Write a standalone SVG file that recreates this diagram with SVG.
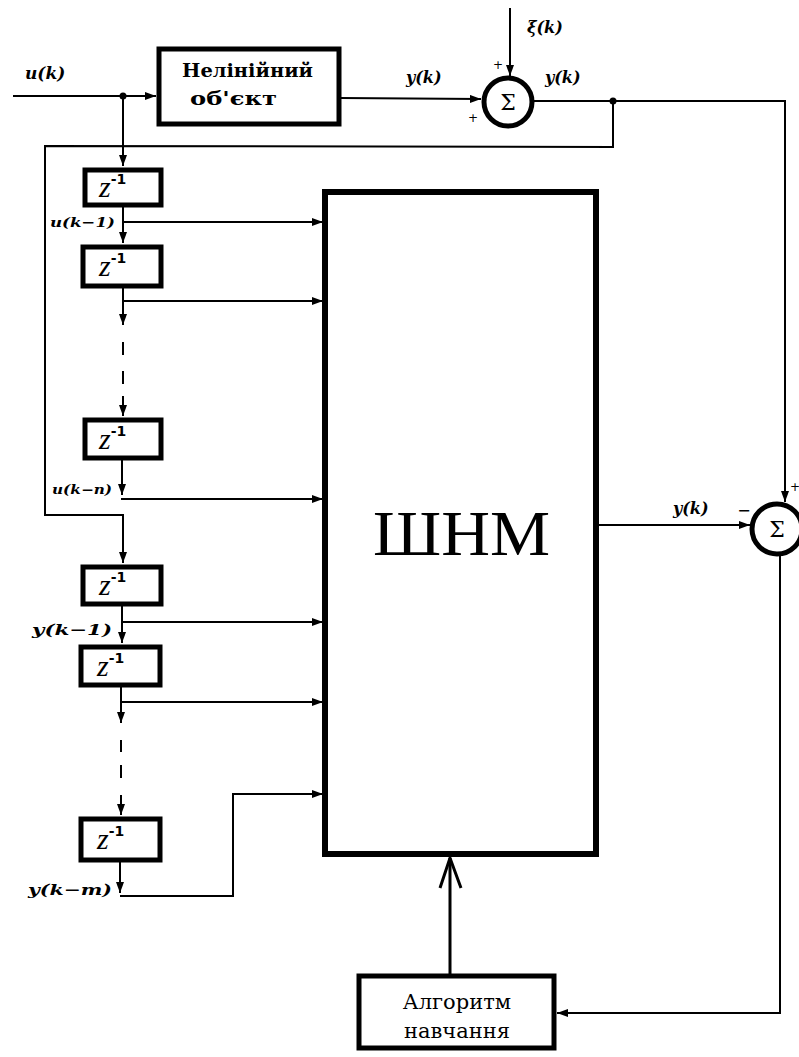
<svg xmlns="http://www.w3.org/2000/svg" width="799" height="1057" viewBox="0 0 799 1057">
<style>
.box{fill:#fff;stroke:#000;stroke-width:5}
.ln{fill:none;stroke:#000;stroke-width:2}
.lbl{font-family:"DejaVu Serif",serif;font-weight:bold;font-style:italic;fill:#000}
.z{font-family:"Liberation Serif",serif;font-style:italic;font-size:30px;fill:#000}
.sup{font-family:"DejaVu Sans",sans-serif;font-style:normal;font-weight:bold;font-size:14px}
.sig{font-family:"DejaVu Serif",serif;font-size:22px;fill:#000}
.ttl{font-family:"DejaVu Serif",serif;font-weight:bold;font-size:18px;fill:#000}
.alg{font-family:"DejaVu Serif",serif;font-size:21px;fill:#000}
.pm{font-family:"DejaVu Sans",sans-serif;font-size:12px;fill:#000}
</style>
<defs>
<marker id="ar" markerUnits="userSpaceOnUse" markerWidth="12" markerHeight="10" refX="11" refY="4" orient="auto">
<path d="M0,0 L11,4 L0,8 z" fill="#000"/>
</marker>
</defs>
<rect width="799" height="1057" fill="#fff"/>

<g id="connectors">
<line class="ln" x1="13" y1="96" x2="156" y2="96" marker-end="url(#ar)"/>
<circle cx="123" cy="96" r="3.5" fill="#000"/>
<line class="ln" x1="340" y1="98" x2="481" y2="99" marker-end="url(#ar)"/>
<line class="ln" x1="510" y1="8" x2="510" y2="76" marker-end="url(#ar)"/>
<polyline class="ln" points="533,101 785,101 785,502" marker-end="url(#ar)"/>
<circle cx="613" cy="101" r="3.5" fill="#000"/>
<polyline class="ln" points="613,101 613,147 45,146 45,515 123,515 123,563" marker-end="url(#ar)"/>
<line class="ln" x1="123" y1="96" x2="123" y2="166" marker-end="url(#ar)"/>
<line class="ln" x1="123" y1="207" x2="123" y2="243" marker-end="url(#ar)"/>
<line class="ln" x1="123" y1="222" x2="323" y2="222" marker-end="url(#ar)"/>
<line class="ln" x1="123" y1="288" x2="123" y2="325" marker-end="url(#ar)"/>
<line class="ln" x1="123" y1="301" x2="323" y2="301" marker-end="url(#ar)"/>
<line class="ln" x1="123" y1="342" x2="123" y2="355"/>
<line class="ln" x1="123" y1="371" x2="123" y2="384"/>
<line class="ln" x1="123" y1="396" x2="123" y2="416" marker-end="url(#ar)"/>
<line class="ln" x1="122" y1="460" x2="122" y2="495" marker-end="url(#ar)"/>
<polyline class="ln" points="121,499 323,499" marker-end="url(#ar)"/>
<line class="ln" x1="122" y1="606" x2="122" y2="643" marker-end="url(#ar)"/>
<line class="ln" x1="122" y1="622" x2="323" y2="622" marker-end="url(#ar)"/>
<line class="ln" x1="121" y1="687" x2="121" y2="723" marker-end="url(#ar)"/>
<line class="ln" x1="121" y1="702" x2="323" y2="702" marker-end="url(#ar)"/>
<line class="ln" x1="121" y1="740" x2="121" y2="752"/>
<line class="ln" x1="121" y1="765" x2="121" y2="778"/>
<line class="ln" x1="121" y1="795" x2="121" y2="815" marker-end="url(#ar)"/>
<line class="ln" x1="120" y1="862" x2="120" y2="893" marker-end="url(#ar)"/>
<polyline class="ln" points="120,896 233,896 233,794 323,794" marker-end="url(#ar)"/>
<line class="ln" x1="597" y1="525" x2="750" y2="525" marker-end="url(#ar)"/>
<polyline class="ln" points="780,556 780,1013 557,1013" marker-end="url(#ar)"/>
<line x1="450" y1="974" x2="450" y2="858" stroke="#000" stroke-width="3"/>
<polyline points="440,888 450,858 461,888" fill="none" stroke="#000" stroke-width="3"/>
</g>

<g id="object">
<rect class="box" x="159" y="49" width="180" height="75"/>
<text class="ttl" x="182" y="77" textLength="131" lengthAdjust="spacingAndGlyphs">Нелінійний</text>
<text class="ttl" x="190" y="105" textLength="87" lengthAdjust="spacingAndGlyphs">об'єкт</text>
</g>

<g id="sum1">
<circle cx="508" cy="102" r="24" fill="#fff" stroke="#000" stroke-width="5"/>
<text class="sig" x="508" y="110" text-anchor="middle">Σ</text>
<text class="pm" x="498" y="69" text-anchor="middle">+</text>
<text class="pm" x="473" y="122" text-anchor="middle">+</text>
</g>

<g id="sum2">
<circle cx="777" cy="529" r="25" fill="#fff" stroke="#000" stroke-width="5"/>
<text class="sig" x="777" y="537" text-anchor="middle">Σ</text>
<text x="744" y="516" font-family="DejaVu Sans,sans-serif" font-size="16" text-anchor="middle">−</text>
<text class="pm" x="795" y="491" text-anchor="middle">+</text>
</g>

<g id="shnm">
<rect x="325" y="192" width="271" height="662" fill="none" stroke="#000" stroke-width="6"/>
<text x="373" y="555" font-family="Liberation Serif,serif" font-size="63" textLength="177" lengthAdjust="spacingAndGlyphs">ШНМ</text>
</g>

<g id="algorithm">
<rect class="box" x="359" y="976" width="195" height="72"/>
<text class="alg" x="457" y="1009" text-anchor="middle">Алгоритм</text>
<text class="alg" x="457" y="1038" text-anchor="middle">навчання</text>
</g>

<g id="delays">
<g id="d1"><rect class="box" x="85" y="170" width="76" height="35"/><text class="z" x="99" y="197">z<tspan class="sup" dy="-13">-1</tspan></text></g>
<g id="d2"><rect class="box" x="83" y="247" width="78" height="39"/><text class="z" x="99" y="276">z<tspan class="sup" dy="-13">-1</tspan></text></g>
<g id="d3"><rect class="box" x="85" y="420" width="76" height="38"/><text class="z" x="99" y="449">z<tspan class="sup" dy="-13">-1</tspan></text></g>
<g id="d4"><rect class="box" x="83" y="567" width="78" height="37"/><text class="z" x="99" y="595">z<tspan class="sup" dy="-13">-1</tspan></text></g>
<g id="d5"><rect class="box" x="81" y="647" width="79" height="38"/><text class="z" x="97" y="676">z<tspan class="sup" dy="-13">-1</tspan></text></g>
<g id="d6"><rect class="box" x="81" y="819" width="79" height="41"/><text class="z" x="97" y="849">z<tspan class="sup" dy="-13">-1</tspan></text></g>
</g>

<g id="labels">
<text class="lbl" x="25" y="79" font-size="17">u(k)</text>
<text class="lbl" x="406" y="83" font-size="16">y(k)</text>
<text class="lbl" x="527" y="33" font-size="16">ξ(k)</text>
<text class="lbl" x="545" y="83" font-size="16">y(k)</text>
<text class="lbl" x="50" y="227" font-size="13" textLength="65" lengthAdjust="spacingAndGlyphs">u(k−1)</text>
<text class="lbl" x="52" y="494" font-size="12" textLength="60" lengthAdjust="spacingAndGlyphs">u(k−n)</text>
<text class="lbl" x="32" y="635" font-size="15" textLength="80" lengthAdjust="spacingAndGlyphs">y(k−1)</text>
<text class="lbl" x="28" y="895" font-size="15" textLength="84" lengthAdjust="spacingAndGlyphs">y(k−m)</text>
<text class="lbl" x="673" y="514" font-size="16">y(k)</text>
</g>
</svg>
